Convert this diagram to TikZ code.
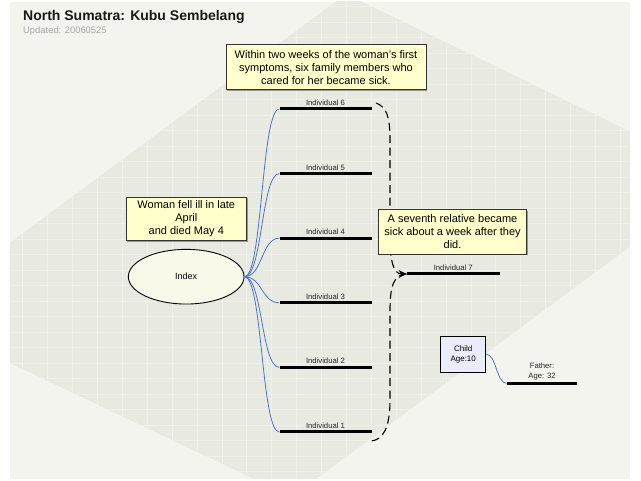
\documentclass[tikz,border=0pt]{standalone}
\usepackage{fontspec}
\setmainfont{Liberation Sans}
\usetikzlibrary{arrows.meta,shapes.geometric,shadows}
\definecolor{panelbg}{RGB}{243,244,238}
\definecolor{diamondbg}{RGB}{232,234,225}
\definecolor{notefill}{RGB}{255,255,204}
\definecolor{indexfill}{RGB}{249,249,233}
\definecolor{childfill}{RGB}{233,237,249}
\definecolor{linkblue}{RGB}{74,116,206}
\definecolor{greytext}{RGB}{165,165,165}

\begin{document}
\begin{tikzpicture}
[x=1pt,y=-1pt,
note/.style={draw=black!80,fill=notefill,line width=1pt,align=center,inner sep=0pt,
	font=\fontsize{11}{13}\selectfont,
	drop shadow={shadow xshift=1.2pt,shadow yshift=-1.2pt,fill=black,opacity=0.35}},
indiv/.style={fill=black,inner sep=0pt,minimum height=3pt,minimum width=92pt,
	label={[label distance=1.5pt,inner sep=0pt,align=center,
		font=\fontsize{7.7}{10}\selectfont,text=black!85]above:{#1}}},
link/.style={linkblue,line width=0.8pt},
brace/.style={line width=1.1pt,dash pattern=on 8pt off 4.5pt}]

\useasboundingbox (0,0) rectangle (641,481);
\fill[white] (0,0) rectangle (641,481);
\fill[panelbg] (10,2) rectangle (630,479);

% tilted backdrop with its grid
\begin{scope}
	\clip (10,2) rectangle (630,479);
	\clip (346,-6) -- (724,177) -- (292,497) -- (-89,316) -- cycle;
	\fill[diamondbg] (0,0) rectangle (641,481);
	\foreach \gx in {0,...,24}
		\draw[white,opacity=0.3,line width=0.7pt] (22.7+24.9*\gx,0) -- ++(0,481);
	\foreach \gy in {0,...,31}
		\draw[white,opacity=0.3,line width=0.7pt] (0,6.7+15.5*\gy) -- ++(641,0);
\end{scope}

\node[anchor=base west,inner sep=0pt,font=\bfseries\fontsize{14}{16}\selectfont,text=black!90] (title) at (23,21) {North Sumatra: Kubu Sembelang};
\node[anchor=base west,inner sep=0pt,font=\fontsize{9.4}{11}\selectfont,text=greytext] (updated) at (23,34) {Updated: 20060525};

\node[draw,ellipse,fill=indexfill,line width=0.9pt,minimum width=115.7pt,minimum height=54.7pt,
	inner sep=0pt,font=\fontsize{9}{11}\selectfont] (index) at (186.2,276.7) {Index};

\node[indiv=Individual 6] (i6) at (325.5,109) {};
\node[indiv=Individual 5] (i5) at (325.5,173.6) {};
\node[indiv=Individual 4] (i4) at (325.5,238.2) {};
\node[indiv=Individual 3] (i3) at (325.5,302.8) {};
\node[indiv=Individual 2] (i2) at (325.5,367.4) {};
\node[indiv=Individual 1] (i1) at (325.5,432) {};
\node[indiv=Individual 7,minimum width=93pt] (i7) at (453.3,274) {};

\node[draw,fill=childfill,line width=1pt,minimum width=45pt,minimum height=36.3pt,inner sep=0pt,
	align=center,font=\fontsize{8}{10}\selectfont] (child) at (463.2,354.2) {Child\\Age:10};
\node[indiv={Father:\\Age: 32},minimum width=70.6pt] (father) at (542,383.3) {};

\foreach \n in {1,...,6}
	\draw[link] (index.east) .. controls +(18,0) and +(-18,0) .. (i\n.west);
\draw[link] (child.east) .. controls +(10,0) and +(-10,0) .. (father.west);

\coordinate (btop) at (376,103);
\coordinate (bbot) at (371,441);
\draw[brace,-{Stealth[length=8pt,width=8pt]}] (btop) .. controls (386,107) and (390,115) .. (390,140)
	-- (390,238) .. controls (390,262) and (394,274) .. (i7.west);
\draw[brace] (i7.west) .. controls (394,274) and (390,286) .. (390,310)
	-- (390,400) .. controls (390,428) and (383,440) .. (bbot);

\node[note,minimum width=200pt,minimum height=45pt] (sixnote) at (326,67.5)
	{Within two weeks of the woman's first\\symptoms, six family members who\\cared for her became sick.};
\node[note,minimum width=120.5pt,minimum height=43.4pt] (illnote) at (186.3,219)
	{Woman fell ill in late\\April\\and died May 4};
\node[note,minimum width=148.4pt,minimum height=44.7pt] (seventhnote) at (452.5,231.7)
	{A seventh relative became\\sick about a week after they\\did.};
\end{tikzpicture}
\end{document}
